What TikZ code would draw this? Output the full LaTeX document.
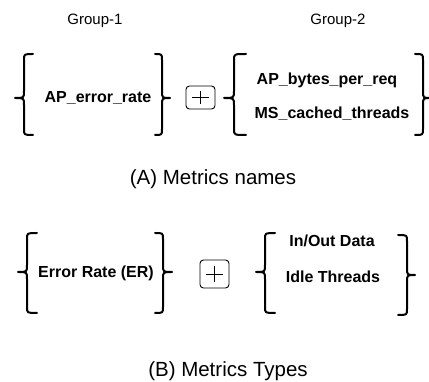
\documentclass[tikz,border=0pt]{standalone}
\usepackage{fontspec}
\setmainfont{Liberation Sans}
\begin{document}
\begin{tikzpicture}[x=1pt,y=-1pt,
  brace/.style={line width=2pt, line cap=round, line join=round},
  grp/.style={anchor=base, font=\fontsize{15}{17}\selectfont},
  lbl/.style={anchor=base, font=\fontsize{16}{18}\selectfont\bfseries},
  captxt/.style={anchor=base, font=\fontsize{20.5}{23}\selectfont},
  plusbox/.style={draw, line width=0.9pt, rounded corners=3.5pt}]
\useasboundingbox (0,0) rectangle (429,382);
\newcommand\mybrc[6]{% hook, vx, tip, top, mid, bottom
  \draw[brace] (#1,#4) .. controls (#2,#4) .. (#2,#4+6) -- (#2,#5-7)
    .. controls (#2,#5) .. (#3,#5) .. controls (#2,#5) .. (#2,#5+7)
    -- (#2,#6-6) .. controls (#2,#6) .. (#1,#6);}
\newcommand\myplus[4]{% x1,y1,x2,y2
  \draw[line width=0.8pt] ({(#1+#3)/2},{#2+0.2*(#4-#2)}) -- ({(#1+#3)/2},{#4-0.2*(#4-#2)});
  \draw[line width=0.8pt] ({#1+0.2*(#3-#1)},{(#2+#4)/2}) -- ({#3-0.2*(#3-#1)},{(#2+#4)/2});}
% --- (A)
\node[grp] (g1) at (95,25) {Group-1};
\node[grp] (g2) at (338,25) {Group-2};
\mybrc{33}{24}{15}{54}{98}{135}
\mybrc{155}{162}{170}{54}{98}{135}
\node[lbl] (aer) at (98,103) {AP\_error\_rate};
\node[plusbox, minimum width=29pt, minimum height=23pt] (p1) at (200.5,97.5) {};
\myplus{186}{86}{215}{109}
\mybrc{246}{234}{224}{54}{98}{135}
\mybrc{415}{423}{431}{54}{98}{135}
\node[lbl] (abp) at (327,85) {AP\_bytes\_per\_req};
\node[lbl] (mct) at (332,119) {MS\_cached\_threads};
\node[captxt] (ca) at (213,185) {(A) Metrics names};
% --- (B)
\mybrc{37}{27}{18}{233}{272}{313}
\mybrc{155}{163}{172}{233}{272}{313}
\node[lbl] (er) at (96,278) {Error Rate (ER)};
\node[plusbox, minimum width=29pt, minimum height=28pt] (p2) at (214.5,274) {};
\myplus{200}{260}{229}{288}
\mybrc{275}{265}{256}{233}{272}{313}
\mybrc{398}{407}{415}{235}{275}{315}
\node[lbl] (iod) at (332,247) {In/Out Data};
\node[lbl] (idt) at (333,283) {Idle Threads};
\node[captxt] (cb) at (228,377) {(B) Metrics Types};
\end{tikzpicture}
\end{document}
